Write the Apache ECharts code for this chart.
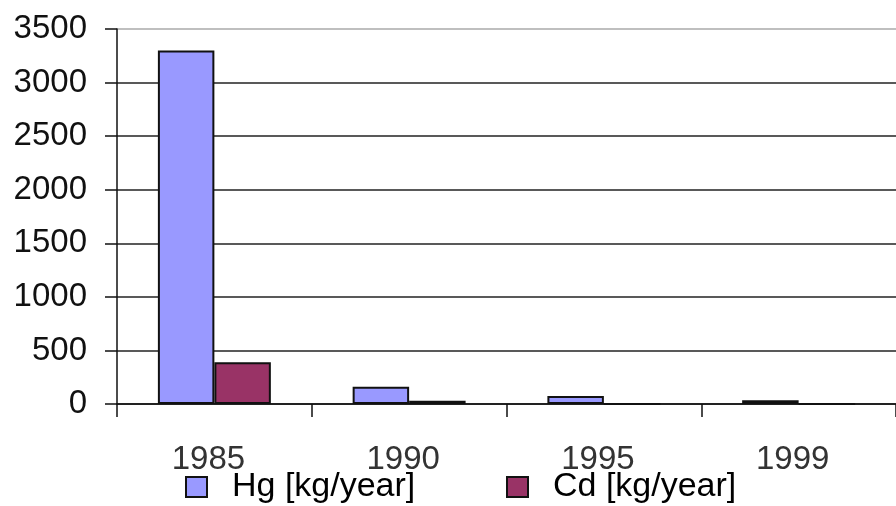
<!DOCTYPE html>
<html>
<head>
<meta charset="utf-8">
<script src="https://cdn.jsdelivr.net/npm/echarts@6/dist/echarts.min.js"></script>
<style>
html,body{margin:0;padding:0;background:#fff;}
#c{width:896px;height:506px;}
</style>
</head>
<body>
<div id="c"></div>
<script>
const categories = ['1985', '1990', '1995', '1999'];
const hgValues = [3300, 160, 75, 35];
const cdValues = [390, 30, 0, 0];
const seriesNames = ['Hg [kg/year]', 'Cd [kg/year]'];

const chart = echarts.init(document.getElementById('c'));
const font = '"Liberation Sans", Arial, sans-serif';
const legendBase = {
  top: 465,
  itemWidth: 21,
  itemHeight: 20,
  icon: 'rect',
  textStyle: { fontFamily: font, fontSize: 34, lineHeight: 34, color: '#000', padding: [0, 0, 0, 20] }
};
chart.setOption({
  backgroundColor: '#ffffff',
  animation: false,
  grid: { left: 117, top: 29, width: 788, height: 375 },
  legend: [
    Object.assign({}, legendBase, { left: 180, data: [seriesNames[0]] }),
    Object.assign({}, legendBase, { left: 501, data: [seriesNames[1]] })
  ],
  xAxis: {
    type: 'category',
    data: categories,
    axisLine: { lineStyle: { color: '#111', width: 1.5 } },
    axisTick: { show: true, length: 13, lineStyle: { color: '#111', width: 1.5 } },
    axisLabel: { margin: 39, fontFamily: font, fontSize: 33, color: '#333', padding: [0, 12, 0, 0] }
  },
  yAxis: {
    type: 'value',
    min: 0,
    max: 3500,
    interval: 500,
    axisLine: { show: true, lineStyle: { color: '#111', width: 1.5 } },
    axisTick: { show: true, length: 12, lineStyle: { color: '#111', width: 1.5 } },
    axisLabel: { margin: 30, fontFamily: font, fontSize: 33, color: '#111', formatter: function (v) { return String(v); } },
    splitLine: { show: true, lineStyle: { color: ['#222', '#222', '#222', '#222', '#222', '#222', '#222', '#aaa'], width: 1.5 } }
  },
  series: [
    {
      name: seriesNames[0],
      type: 'bar',
      data: hgValues,
      barCategoryGap: '42%',
      barGap: '0%',
      itemStyle: { color: '#9999ff', borderColor: '#111', borderWidth: 2 }
    },
    {
      name: seriesNames[1],
      type: 'bar',
      data: cdValues,
      itemStyle: { color: '#993366', borderColor: '#111', borderWidth: 2 }
    }
  ]
});
</script>
</body>
</html>
